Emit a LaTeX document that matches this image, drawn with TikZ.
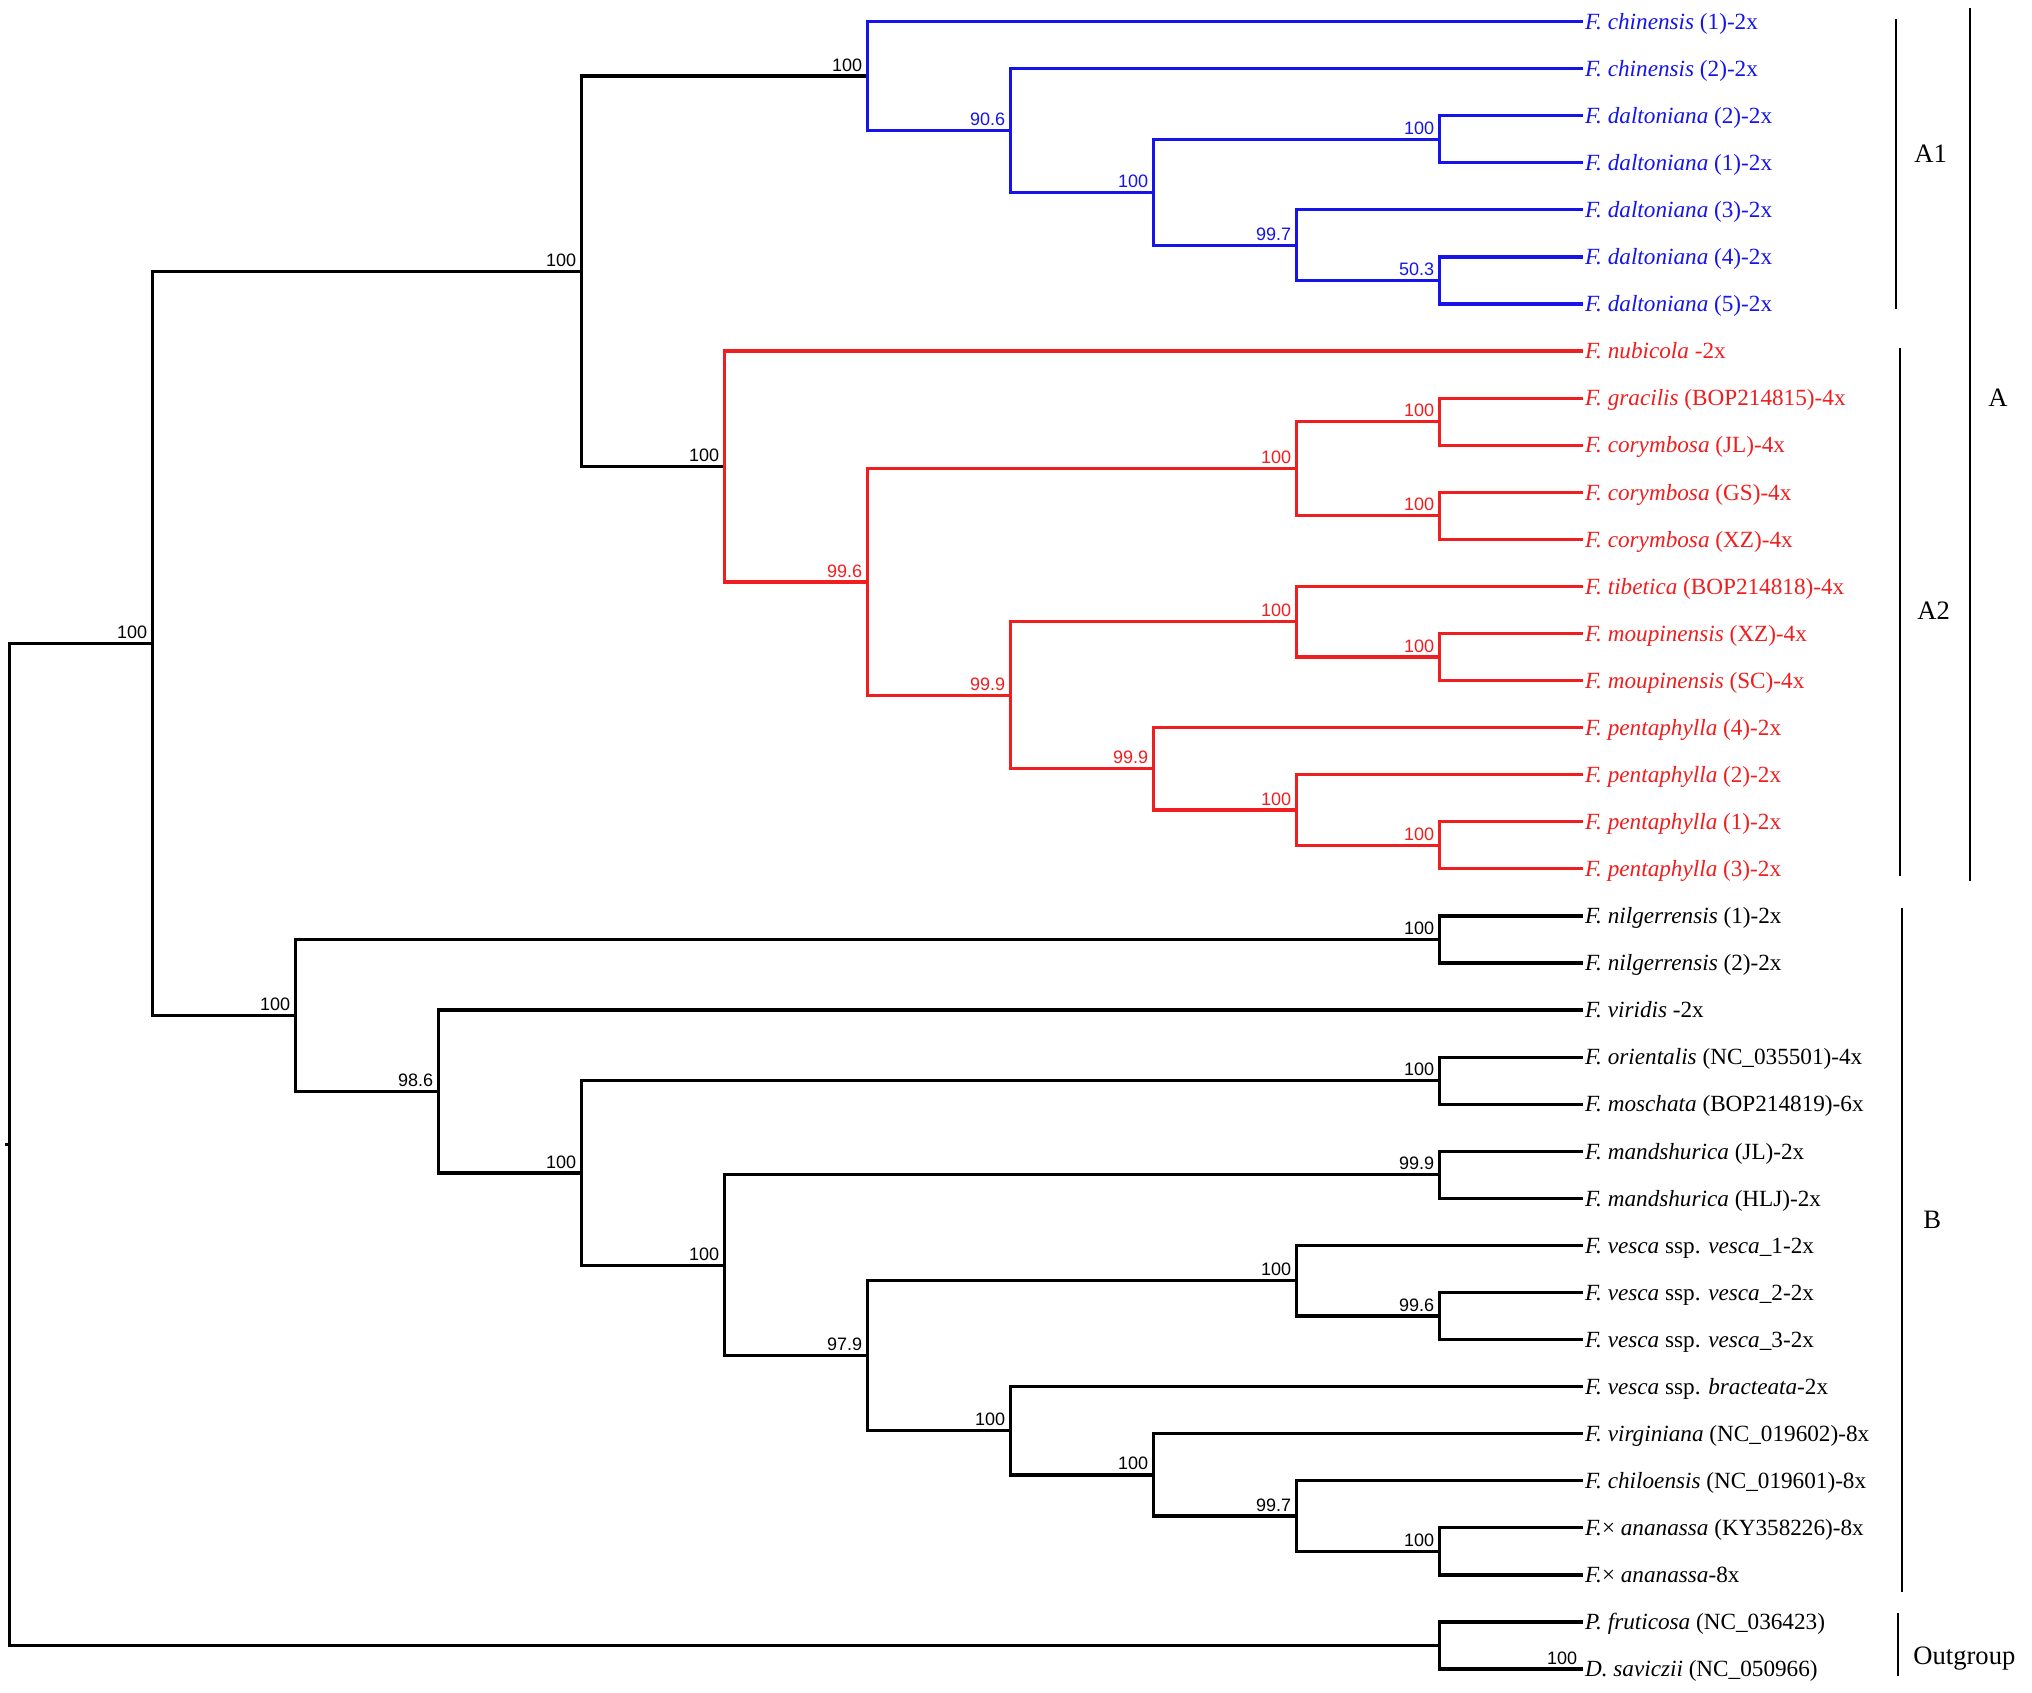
\documentclass[tikz,border=0pt]{standalone}
\usepackage{fontspec}
\setmainfont{Liberation Serif}
\newfontfamily\bsfont{Liberation Sans}
\usetikzlibrary{calc}
\definecolor{cblue}{RGB}{20,20,235}
\definecolor{cred}{RGB}{240,30,30}
\begin{document}
\begin{tikzpicture}[x=0.5pt,y=-0.5pt,
  br/.style={line width=1.6pt, line join=miter},
  leaf/.style={anchor=west, inner xsep=1.25pt, inner ysep=0pt, outer sep=0pt,
    font=\fontsize{11.6}{13}\selectfont, text height=8pt, text depth=0.3pt},
  bs/.style={font=\bsfont\fontsize{9}{10}\selectfont, anchor=base east, inner sep=0pt,
    xshift=-2.5pt, yshift=2.5pt},
  bar/.style={line width=1.1pt},
  grp/.style={font=\fontsize{13.3}{15}\selectfont, anchor=base west, inner sep=0pt}]
\fill[white] (0,0) rectangle (2032,1692);
\useasboundingbox (0,0) rectangle (2032,1692);

% internal nodes
\coordinate (root) at (9.5,1144.46);
\coordinate (N1) at (152.5,643.40);
\coordinate (NA) at (581.5,271.30);
\coordinate (A1) at (867.5,76.03);
\coordinate (a) at (1010.5,130.45);
\coordinate (b) at (1153.5,192.23);
\coordinate (c) at (1439.5,139.275);
\coordinate (d) at (1296.5,245.18);
\coordinate (e) at (1439.5,280.485);
\coordinate (A2) at (724.5,466.56);
\coordinate (f) at (867.5,582.03);
\coordinate (g) at (1296.5,468.765);
\coordinate (g1) at (1439.5,421.695);
\coordinate (g2) at (1439.5,515.835);
\coordinate (h) at (1010.5,695.29);
\coordinate (i) at (1296.5,621.74);
\coordinate (i1) at (1439.5,657.045);
\coordinate (j) at (1153.5,768.84);
\coordinate (k) at (1296.5,810.02);
\coordinate (k1) at (1439.5,845.325);
\coordinate (NB) at (295.5,1015.50);
\coordinate (l) at (1439.5,939.465);
\coordinate (m) at (438.5,1091.53);
\coordinate (n) at (581.5,1172.98);
\coordinate (n1) at (1439.5,1080.675);
\coordinate (o) at (724.5,1265.28);
\coordinate (o1) at (1439.5,1174.815);
\coordinate (p) at (867.5,1355.74);
\coordinate (q) at (1296.5,1280.72);
\coordinate (q1) at (1439.5,1316.025);
\coordinate (r) at (1010.5,1430.76);
\coordinate (s) at (1153.5,1474.89);
\coordinate (t) at (1296.5,1516.07);
\coordinate (t1) at (1439.5,1551.375);
\coordinate (og) at (1439.5,1645.515);
\coordinate (stub) at (5,1144.46);

% leaves
\begin{scope}[every node/.append style={text=cblue}]
\node[leaf] (L0) at (1582.5,21.60) {\textit{F. chinensis} (1)-2x};
\node[leaf] (L1) at (1582.5,68.67) {\textit{F. chinensis} (2)-2x};
\node[leaf] (L2) at (1582.5,115.74) {\textit{F. daltoniana} (2)-2x};
\node[leaf] (L3) at (1582.5,162.81) {\textit{F. daltoniana} (1)-2x};
\node[leaf] (L4) at (1582.5,209.88) {\textit{F. daltoniana} (3)-2x};
\node[leaf] (L5) at (1582.5,256.95) {\textit{F. daltoniana} (4)-2x};
\node[leaf] (L6) at (1582.5,304.02) {\textit{F. daltoniana} (5)-2x};
\end{scope}
\begin{scope}[every node/.append style={text=cred}]
\node[leaf] (L7) at (1582.5,351.09) {\textit{F. nubicola} -2x};
\node[leaf] (L8) at (1582.5,398.16) {\textit{F. gracilis} (BOP214815)-4x};
\node[leaf] (L9) at (1582.5,445.23) {\textit{F. corymbosa} (JL)-4x};
\node[leaf] (L10) at (1582.5,492.30) {\textit{F. corymbosa} (GS)-4x};
\node[leaf] (L11) at (1582.5,539.37) {\textit{F. corymbosa} (XZ)-4x};
\node[leaf] (L12) at (1582.5,586.44) {\textit{F. tibetica} (BOP214818)-4x};
\node[leaf] (L13) at (1582.5,633.51) {\textit{F. moupinensis} (XZ)-4x};
\node[leaf] (L14) at (1582.5,680.58) {\textit{F. moupinensis} (SC)-4x};
\node[leaf] (L15) at (1582.5,727.65) {\textit{F. pentaphylla} (4)-2x};
\node[leaf] (L16) at (1582.5,774.72) {\textit{F. pentaphylla} (2)-2x};
\node[leaf] (L17) at (1582.5,821.79) {\textit{F. pentaphylla} (1)-2x};
\node[leaf] (L18) at (1582.5,868.86) {\textit{F. pentaphylla} (3)-2x};
\end{scope}
\node[leaf] (L19) at (1582.5,915.93) {\textit{F. nilgerrensis} (1)-2x};
\node[leaf] (L20) at (1582.5,963.00) {\textit{F. nilgerrensis} (2)-2x};
\node[leaf] (L21) at (1582.5,1010.07) {\textit{F. viridis} -2x};
\node[leaf] (L22) at (1582.5,1057.14) {\textit{F. orientalis} (NC\_035501)-4x};
\node[leaf] (L23) at (1582.5,1104.21) {\textit{F. moschata} (BOP214819)-6x};
\node[leaf] (L24) at (1582.5,1151.28) {\textit{F. mandshurica} (JL)-2x};
\node[leaf] (L25) at (1582.5,1198.35) {\textit{F. mandshurica} (HLJ)-2x};
\node[leaf] (L26) at (1582.5,1245.42) {\textit{F. vesca} ssp. \textit{vesca}\_1-2x};
\node[leaf] (L27) at (1582.5,1292.49) {\textit{F. vesca} ssp. \textit{vesca}\_2-2x};
\node[leaf] (L28) at (1582.5,1339.56) {\textit{F. vesca} ssp. \textit{vesca}\_3-2x};
\node[leaf] (L29) at (1582.5,1386.63) {\textit{F. vesca} ssp. \textit{bracteata}-2x};
\node[leaf] (L30) at (1582.5,1433.70) {\textit{F. virginiana} (NC\_019602)-8x};
\node[leaf] (L31) at (1582.5,1480.77) {\textit{F. chiloensis} (NC\_019601)-8x};
\node[leaf] (L32) at (1582.5,1527.84) {\textit{F.}× \textit{ananassa} (KY358226)-8x};
\node[leaf] (L33) at (1582.5,1574.91) {\textit{F.}× \textit{ananassa}-8x};
\node[leaf] (L34) at (1582.5,1621.98) {\textit{P. fruticosa} (NC\_036423)};
\node[leaf] (L35) at (1582.5,1669.05) {\textit{D. saviczii} (NC\_050966)};

% black backbone
\draw[br] (root) |- (N1) (root) |- (og) (root) -- (stub);
\draw[br] (N1) |- (NA) (N1) |- (NB);
\draw[br] (NA) |- (A1) (NA) |- (A2);
% A1 (blue)
\draw[br, cblue] (A1) |- (L0.west) (A1) |- (a);
\draw[br, cblue] (a) |- (L1.west) (a) |- (b);
\draw[br, cblue] (b) |- (c) (b) |- (d);
\draw[br, cblue] (c) |- (L2.west) (c) |- (L3.west);
\draw[br, cblue] (d) |- (L4.west) (d) |- (e);
\draw[br, cblue] (e) |- (L5.west) (e) |- (L6.west);
% A2 (red)
\draw[br, cred] (A2) |- (L7.west) (A2) |- (f);
\draw[br, cred] (f) |- (g) (f) |- (h);
\draw[br, cred] (g) |- (g1) (g) |- (g2);
\draw[br, cred] (g1) |- (L8.west) (g1) |- (L9.west);
\draw[br, cred] (g2) |- (L10.west) (g2) |- (L11.west);
\draw[br, cred] (h) |- (i) (h) |- (j);
\draw[br, cred] (i) |- (L12.west) (i) |- (i1);
\draw[br, cred] (i1) |- (L13.west) (i1) |- (L14.west);
\draw[br, cred] (j) |- (L15.west) (j) |- (k);
\draw[br, cred] (k) |- (L16.west) (k) |- (k1);
\draw[br, cred] (k1) |- (L17.west) (k1) |- (L18.west);
% B (black)
\draw[br] (NB) |- (l) (NB) |- (m);
\draw[br] (l) |- (L19.west) (l) |- (L20.west);
\draw[br] (m) |- (L21.west) (m) |- (n);
\draw[br] (n) |- (n1) (n) |- (o);
\draw[br] (n1) |- (L22.west) (n1) |- (L23.west);
\draw[br] (o) |- (o1) (o) |- (p);
\draw[br] (o1) |- (L24.west) (o1) |- (L25.west);
\draw[br] (p) |- (q) (p) |- (r);
\draw[br] (q) |- (L26.west) (q) |- (q1);
\draw[br] (q1) |- (L27.west) (q1) |- (L28.west);
\draw[br] (r) |- (L29.west) (r) |- (s);
\draw[br] (s) |- (L30.west) (s) |- (t);
\draw[br] (t) |- (L31.west) (t) |- (t1);
\draw[br] (t1) |- (L32.west) (t1) |- (L33.west);
\draw[br] (og) |- (L34.west) (og) |- (L35.west);

% bootstrap values
\node[bs] (bN1) at (N1) {100};
\node[bs] (bNA) at (NA) {100};
\node[bs] (bA1) at (A1) {100};
\node[bs] (bA2) at (A2) {100};
\node[bs, text=cblue] (ba) at (a) {90.6};
\node[bs, text=cblue] (bb) at (b) {100};
\node[bs, text=cblue] (bc) at (c) {100};
\node[bs, text=cblue] (bd) at (d) {99.7};
\node[bs, text=cblue] (be) at (e) {50.3};
\node[bs, text=cred] (bf) at (f) {99.6};
\node[bs, text=cred] (bg) at (g) {100};
\node[bs, text=cred] (bg1) at (g1) {100};
\node[bs, text=cred] (bg2) at (g2) {100};
\node[bs, text=cred] (bh) at (h) {99.9};
\node[bs, text=cred] (bi) at (i) {100};
\node[bs, text=cred] (bi1) at (i1) {100};
\node[bs, text=cred] (bj) at (j) {99.9};
\node[bs, text=cred] (bk) at (k) {100};
\node[bs, text=cred] (bk1) at (k1) {100};
\node[bs] (bNB) at (NB) {100};
\node[bs] (bl) at (l) {100};
\node[bs] (bm) at (m) {98.6};
\node[bs] (bn) at (n) {100};
\node[bs] (bn1) at (n1) {100};
\node[bs] (bo) at (o) {100};
\node[bs] (bo1) at (o1) {99.9};
\node[bs] (bp) at (p) {97.9};
\node[bs] (bq) at (q) {100};
\node[bs] (bq1) at (q1) {99.6};
\node[bs] (br) at (r) {100};
\node[bs] (bs) at (s) {100};
\node[bs] (bt) at (t) {99.7};
\node[bs] (bt1) at (t1) {100};
\node[bs] (bog) at (L35.west) {100};

% group bars
\draw[bar] (1896,19) -- (1896,309);
\draw[bar] (1900,348) -- (1900,876);
\draw[bar] (1970,7.5) -- (1970,881);
\draw[bar] (1902,908) -- (1902,1592);
\draw[bar] (1898,1613) -- (1898,1676);
\node[grp] (gA1) at (1914,162.7) {A1};
\node[grp] (gA2) at (1917,619.5) {A2};
\node[grp] (gA) at (1988,406) {A};
\node[grp] (gB) at (1923,1228) {B};
\node[grp] (gO) at (1913,1664) {Outgroup};
\end{tikzpicture}
\end{document}
